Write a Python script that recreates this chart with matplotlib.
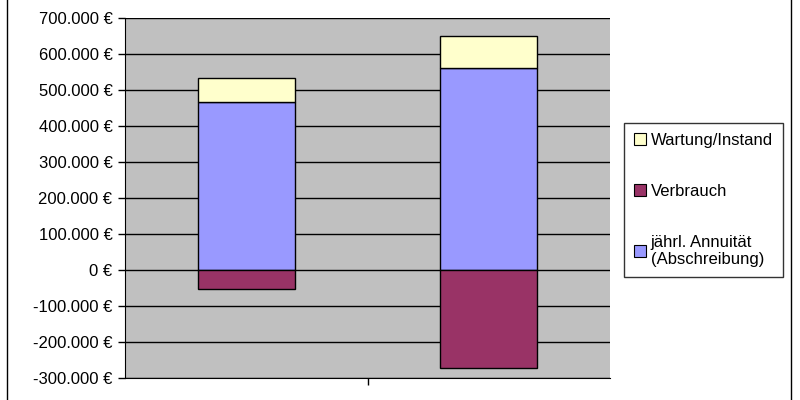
import matplotlib.pyplot as plt
from matplotlib.lines import Line2D
from matplotlib.patches import Patch

plt.rcParams['font.family'] = ['Liberation Sans', 'DejaVu Sans']

categories = ["1", "2"]
annuitaet = [467000, 562000]
wartung = [67000, 89000]
verbrauch = [-54000, -272000]
yticks = [-300000, -200000, -100000, 0, 100000, 200000, 300000, 400000, 500000, 600000, 700000]

c_wart = "#FFFFCC"
c_verb = "#993366"
c_ann = "#9999FF"

fig = plt.figure(figsize=(8, 4), dpi=100)
ax = fig.add_axes([0.15625, 0.055, 0.60625, 0.9])
ax.set_facecolor("#C0C0C0")

x = list(range(len(categories)))
w = 0.4
ax.bar(x, annuitaet, w, color=c_ann, edgecolor="black", lw=1, zorder=3)
ax.bar(x, wartung, w, bottom=annuitaet, color=c_wart, edgecolor="black", lw=1, zorder=3)
ax.bar(x, verbrauch, w, color=c_verb, edgecolor="black", lw=1, zorder=3)

ax.set_ylim(-300000, 700000)
ax.set_xlim(-0.5, 1.5)
ax.set_yticks(yticks)
ax.set_yticklabels([("{:,}".format(v).replace(",", ".") + " €") for v in yticks], fontsize=12)
ax.yaxis.grid(True, color="black", lw=1, zorder=1)
ax.tick_params(axis="y", direction="out", length=5, width=1, pad=4)

ax.set_xticks([0.5])
ax.set_xticklabels([""])
ax.tick_params(axis="x", which="major", direction="out", length=5, width=1)
ax.set_xticks(x, minor=True)
ax.set_xticklabels(categories, minor=True, fontsize=12)
ax.tick_params(axis="x", which="minor", length=0, pad=16)

for s in ["top", "right"]:
    ax.spines[s].set_visible(False)
ax.spines["left"].set_color("black")
ax.spines["bottom"].set_color("black")

handles = [
    Patch(facecolor=c_wart, edgecolor="black", lw=0.8),
    Patch(facecolor=c_verb, edgecolor="black", lw=0.8),
    Patch(facecolor=c_ann, edgecolor="black", lw=0.8),
]
labels = ["Wartung/Instand", "Verbrauch", "jährl. Annuität\n(Abschreibung)"]
leg = fig.legend(handles, labels, loc="upper left", bbox_to_anchor=(0.78, 0.6925),
                 fontsize=12, frameon=True, fancybox=False, edgecolor="black",
                 handlelength=0.7, handleheight=0.7, handletextpad=0.3,
                 labelspacing=2.15, borderpad=0.6, borderaxespad=0)
leg.get_frame().set_linewidth(1)

# outer chart border (only sides visible)
fig.add_artist(Line2D([0.009, 0.009], [0, 1], color="black", lw=1))
fig.add_artist(Line2D([0.989, 0.989], [0, 1], color="black", lw=1))

fig.savefig("out.png", dpi=100)
